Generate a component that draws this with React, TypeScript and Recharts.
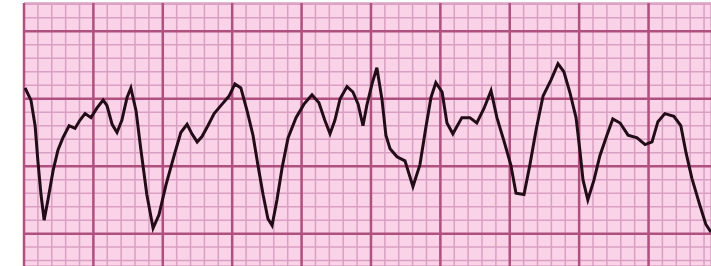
import React from "react";
import { LineChart, Line, XAxis, YAxis, CartesianGrid, ReferenceLine } from "recharts";

// time (s) of each sample on the strip
const times = [
  0.003, 0.02, 0.032, 0.04, 0.049, 0.058, 0.069, 0.084, 0.098, 0.112,
  0.13, 0.147, 0.161, 0.176, 0.193, 0.21, 0.228, 0.239, 0.254, 0.268,
  0.282, 0.297, 0.308, 0.323, 0.337, 0.354, 0.372, 0.389, 0.409, 0.435,
  0.452, 0.47, 0.484, 0.499, 0.513, 0.53, 0.548, 0.571, 0.591, 0.608,
  0.625, 0.643, 0.66, 0.674, 0.689, 0.703, 0.715, 0.729, 0.744, 0.761,
  0.784, 0.807, 0.83, 0.85, 0.867, 0.882, 0.896, 0.911, 0.931, 0.948,
  0.963, 0.977, 0.988, 1.003, 1.017, 1.032, 1.043, 1.055, 1.075, 1.098,
  1.121, 1.141, 1.159, 1.173, 1.187, 1.205, 1.219, 1.236, 1.262, 1.285,
  1.305, 1.326, 1.346, 1.363, 1.383, 1.403, 1.418, 1.441, 1.458, 1.476,
  1.496, 1.519, 1.539, 1.556, 1.573, 1.591, 1.602, 1.611, 1.625, 1.643,
  1.66, 1.68, 1.697, 1.718, 1.741, 1.767, 1.79, 1.81, 1.827, 1.847,
  1.873, 1.893, 1.908, 1.925, 1.948, 1.965, 1.98,
];

// voltage (mV) of each sample
const millivolts = [
  0.58, 0.49, 0.3, 0.04, -0.21, -0.4, -0.25, -0.03, 0.12, 0.21,
  0.3, 0.28, 0.34, 0.39, 0.36, 0.43, 0.49, 0.45, 0.31, 0.25,
  0.34, 0.51, 0.58, 0.41, 0.12, -0.21, -0.46, -0.36, -0.14, 0.1,
  0.25, 0.31, 0.24, 0.18, 0.22, 0.3, 0.39, 0.46, 0.52, 0.61,
  0.58, 0.41, 0.23, 0.01, -0.21, -0.39, -0.44, -0.25, -0.01, 0.21,
  0.36, 0.46, 0.53, 0.47, 0.34, 0.24, 0.34, 0.5, 0.59, 0.55,
  0.46, 0.3, 0.45, 0.61, 0.73, 0.49, 0.23, 0.13, 0.07, 0.04,
  -0.15, 0.01, 0.3, 0.51, 0.62, 0.55, 0.32, 0.24, 0.36, 0.36,
  0.32, 0.43, 0.56, 0.36, 0.19, 0.01, -0.2, -0.21, 0.01, 0.27,
  0.52, 0.64, 0.76, 0.7, 0.55, 0.36, 0.12, -0.1, -0.25, -0.1,
  0.08, 0.23, 0.35, 0.32, 0.23, 0.21, 0.16, 0.18, 0.33, 0.39,
  0.37, 0.3, 0.1, -0.09, -0.29, -0.43, -0.49,
];

// large-box grid positions
const majorTimes = [0, 0.2, 0.4, 0.6, 0.8, 1.0, 1.2, 1.4, 1.6, 1.8];
const majorVolts = [-0.5, 0, 0.5, 1.0];

const X_DOMAIN: [number, number] = [0, 1.98];
const Y_DOMAIN: [number, number] = [-0.74, 1.21];

// small-box subdivisions (5 per large box)
const minorTimes: number[] = [];
for (let i = 0; i <= 49; i++) minorTimes.push(Math.round(i * 0.04 * 1000) / 1000);
const minorVolts: number[] = [];
for (let i = -7; i <= 12; i++) minorVolts.push(Math.round(i * 0.1 * 100) / 100);

const data = times.map((t, i) => ({ t, mv: millivolts[i] }));

export default function App() {
  return (
    <div style={{ position: "absolute", left: 0, top: 0, width: 711, height: 266, background: "#ffffff" }}>
      <LineChart width={711} height={266} data={data} margin={{ top: 3, right: 0, bottom: 0, left: 24 }}>
        <XAxis type="number" dataKey="t" domain={X_DOMAIN} ticks={minorTimes} interval={0} hide allowDataOverflow />
        <YAxis type="number" domain={Y_DOMAIN} ticks={minorVolts} interval={0} hide allowDataOverflow />
        <CartesianGrid fill="#fad3e8" stroke="#d9a0c2" strokeWidth={1.5} />
        {majorTimes.map((t) => (
          <ReferenceLine key={"vx" + t} x={t} stroke="#b0507e" strokeWidth={2.5} />
        ))}
        {majorVolts.map((v) => (
          <ReferenceLine key={"hy" + v} y={v} stroke="#b0507e" strokeWidth={2.5} />
        ))}
        <Line
          type="linear"
          dataKey="mv"
          stroke="#220c17"
          strokeWidth={3}
          dot={false}
          isAnimationActive={false}
        />
      </LineChart>
    </div>
  );
}
